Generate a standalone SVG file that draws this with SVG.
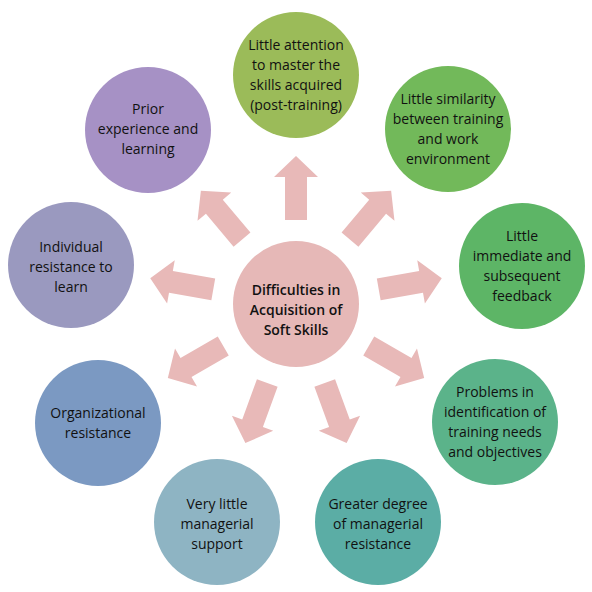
<svg xmlns="http://www.w3.org/2000/svg" width="592" height="592" viewBox="0 0 592 592">
<style>
text{font-family:"Open Sans","Noto Sans","Liberation Sans",sans-serif;font-size:14px;fill:#111111;text-anchor:middle}
.c text{font-weight:600}
.arrow{fill:#e8b9b8}
</style>
<defs>
<polygon id="arr" points="84,-11 127,-11 127,-22 148,0 127,22 127,11 84,11"/>
</defs>
<rect width="592" height="592" fill="#ffffff"/>
<g id="connectors" class="arrow">
<use href="#arr" transform="translate(296,304) rotate(-90)"/>
<use href="#arr" transform="translate(296,304) rotate(-50)"/>
<use href="#arr" transform="translate(296,304) rotate(-10)"/>
<use href="#arr" transform="translate(296,304) rotate(30)"/>
<use href="#arr" transform="translate(296,304) rotate(70)"/>
<use href="#arr" transform="translate(296,304) rotate(110)"/>
<use href="#arr" transform="translate(296,304) rotate(150)"/>
<use href="#arr" transform="translate(296,304) rotate(190)"/>
<use href="#arr" transform="translate(296,304) rotate(230)"/>
</g>
<g id="center" class="c">
<circle cx="296" cy="304" r="63" fill="#e6b8b7"/>
<text x="296" y="295">Difficulties in</text>
<text x="296" y="315">Acquisition of</text>
<text x="296" y="335">Soft Skills</text>
</g>
<g id="n1">
<circle cx="296" cy="75" r="63" fill="#9bbb59"/>
<text x="296" y="50">Little attention</text>
<text x="296" y="70">to master the</text>
<text x="296" y="90">skills acquired</text>
<text x="296" y="110">(post-training)</text>
</g>
<g id="n2">
<circle cx="448" cy="129" r="63" fill="#72b95a"/>
<text x="448" y="104">Little similarity</text>
<text x="448" y="124">between training</text>
<text x="448" y="144">and work</text>
<text x="448" y="164">environment</text>
</g>
<g id="n3">
<circle cx="522" cy="266" r="63" fill="#5db566"/>
<text x="522" y="241">Little</text>
<text x="522" y="261">immediate and</text>
<text x="522" y="281">subsequent</text>
<text x="522" y="301">feedback</text>
</g>
<g id="n4">
<circle cx="495" cy="422" r="63" fill="#5bb38a"/>
<text x="495" y="397">Problems in</text>
<text x="495" y="417">identification of</text>
<text x="495" y="437">training needs</text>
<text x="495" y="457">and objectives</text>
</g>
<g id="n5">
<circle cx="378" cy="522" r="63" fill="#5bada5"/>
<text x="378" y="509">Greater degree</text>
<text x="378" y="529">of managerial</text>
<text x="378" y="549">resistance</text>
</g>
<g id="n6">
<circle cx="217" cy="522" r="63" fill="#8eb4c3"/>
<text x="217" y="509">Very little</text>
<text x="217" y="529">managerial</text>
<text x="217" y="549">support</text>
</g>
<g id="n7">
<circle cx="98" cy="423" r="63" fill="#7b99c2"/>
<text x="98" y="418">Organizational</text>
<text x="98" y="438">resistance</text>
</g>
<g id="n8">
<circle cx="71" cy="265" r="63" fill="#9a99bf"/>
<text x="71" y="252">Individual</text>
<text x="71" y="272">resistance to</text>
<text x="71" y="292">learn</text>
</g>
<g id="n9">
<circle cx="148" cy="130" r="63" fill="#a691c5"/>
<text x="148" y="114">Prior</text>
<text x="148" y="134">experience and</text>
<text x="148" y="154">learning</text>
</g>
</svg>
